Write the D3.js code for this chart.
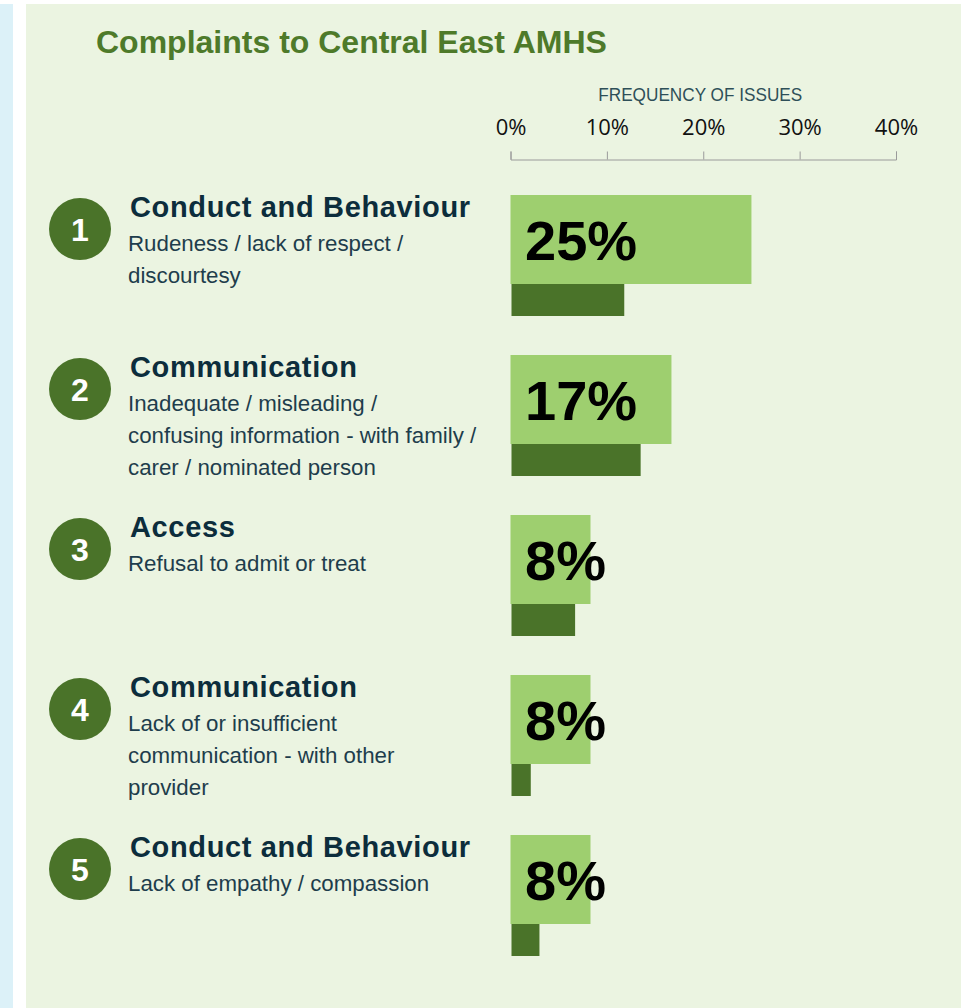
<!DOCTYPE html>
<html>
<head>
<meta charset="utf-8">
<script src="https://cdn.jsdelivr.net/npm/d3@7"></script>
<style>
  html, body { margin: 0; padding: 0; background: #ffffff; }
  svg { display: block; }
</style>
</head>
<body>
<svg id="chart" width="961" height="1008"></svg>
<script>
// ---- data ----
const chartTitle = "Complaints to Central East AMHS";
const axisTitle = "FREQUENCY OF ISSUES";
const ranks = [1, 2, 3, 4, 5];
const categories = ["Conduct and Behaviour", "Communication", "Access", "Communication", "Conduct and Behaviour"];
const descriptions = [
  ["Rudeness / lack of respect /", "discourtesy"],
  ["Inadequate / misleading /", "confusing information - with family /", "carer / nominated person"],
  ["Refusal to admit or treat"],
  ["Lack of or insufficient", "communication - with other", "provider"],
  ["Lack of empathy / compassion"]
];
const frequency = [25, 16.7, 8.3, 8.3, 8.3];    // light bars (labelled, rounded)
const comparison = [11.7, 13.4, 6.6, 2.0, 2.9]; // dark bars beneath
const tickValues = [0, 10, 20, 30, 40];

// ---- drawing ----
const svg = d3.select("#chart");

svg.append("rect").attr("x", 0).attr("y", 4).attr("width", 13).attr("height", 1004).attr("fill", "#dcf1f8");
svg.append("rect").attr("x", 26).attr("y", 4).attr("width", 935).attr("height", 1004).attr("fill", "#ebf4e1");

svg.append("text")
  .attr("x", 96).attr("y", 53)
  .attr("font-family", "'Liberation Sans', Arial, sans-serif")
  .attr("font-weight", "bold").attr("font-size", 32)
  .attr("fill", "#4e7a2a")
  .text(chartTitle);

const x = d3.scaleLinear().domain([0, 40]).range([510.5, 896]);
const y = d3.scaleBand().domain(ranks).range([195, 995]);

// axis title
svg.append("text")
  .attr("x", (x(0) + x(40)) / 2 - 3).attr("y", 101)
  .attr("text-anchor", "middle")
  .attr("font-family", "'Liberation Sans', Arial, sans-serif")
  .attr("font-size", 18)
  .attr("textLength", 204).attr("lengthAdjust", "spacingAndGlyphs")
  .attr("fill", "#2e4f58")
  .text(axisTitle);

// axis
const axis = d3.axisTop(x).tickValues(tickValues).tickFormat(d => d + "%").tickSize(8).tickSizeOuter(8).tickPadding(17);
const gAxis = svg.append("g").attr("transform", "translate(0,159.5)").call(axis);
gAxis.select(".domain").attr("stroke", "#9a9a9a");
gAxis.selectAll(".tick line").attr("stroke", "#9a9a9a");
gAxis.selectAll(".tick text")
  .attr("font-family", "'Open Sans', sans-serif")
  .attr("font-size", 22)
  .attr("fill", "#111");

const rows = ranks.map((r, i) => ({
  rank: r, cat: categories[i], desc: descriptions[i], freq: frequency[i], comp: comparison[i]
}));

const lightH = 89, darkH = 32;

const g = svg.selectAll("g.row").data(rows).join("g").attr("class", "row");

// circle badge
g.append("circle")
  .attr("cx", 80).attr("cy", d => y(d.rank) + 34)
  .attr("r", 31)
  .attr("fill", "#4a7329");
g.append("text")
  .attr("x", 80).attr("y", d => y(d.rank) + 34 + 11.5)
  .attr("text-anchor", "middle")
  .attr("font-family", "'Liberation Sans', Arial, sans-serif")
  .attr("font-weight", "bold").attr("font-size", 32)
  .attr("fill", "#ffffff")
  .text(d => d.rank);

// category title
g.append("text")
  .attr("x", 130).attr("y", d => y(d.rank) + 22)
  .attr("font-family", "'Liberation Sans', Arial, sans-serif")
  .attr("font-weight", "bold").attr("font-size", 29)
  .attr("letter-spacing", 0.65)
  .attr("fill", "#0c2d3c")
  .text(d => d.cat);

// descriptions
g.each(function(d) {
  d3.select(this).selectAll("text.desc").data(d.desc).join("text")
    .attr("class", "desc")
    .attr("x", 128)
    .attr("y", (t, j) => y(d.rank) + 56 + j * 32)
    .attr("font-family", "'Liberation Sans', Arial, sans-serif")
    .attr("font-size", 22.3)
    .attr("fill", "#1e3d4c")
    .text(t => t);
});

// bars
g.append("rect")
  .attr("x", x(0)).attr("y", d => y(d.rank))
  .attr("width", d => x(d.freq) - x(0)).attr("height", lightH)
  .attr("fill", "#9ecf6f");
g.append("rect")
  .attr("x", x(0) + 1).attr("y", d => y(d.rank) + lightH)
  .attr("width", d => x(d.comp) - x(0)).attr("height", darkH)
  .attr("fill", "#4a7329");

// value labels
g.append("text")
  .attr("x", 525).attr("y", d => y(d.rank) + 65)
  .attr("font-family", "'Liberation Sans', Arial, sans-serif")
  .attr("font-weight", "bold").attr("font-size", 56)
  .attr("fill", "#000")
  .text(d => Math.round(d.freq) + "%");
</script>
</body>
</html>
